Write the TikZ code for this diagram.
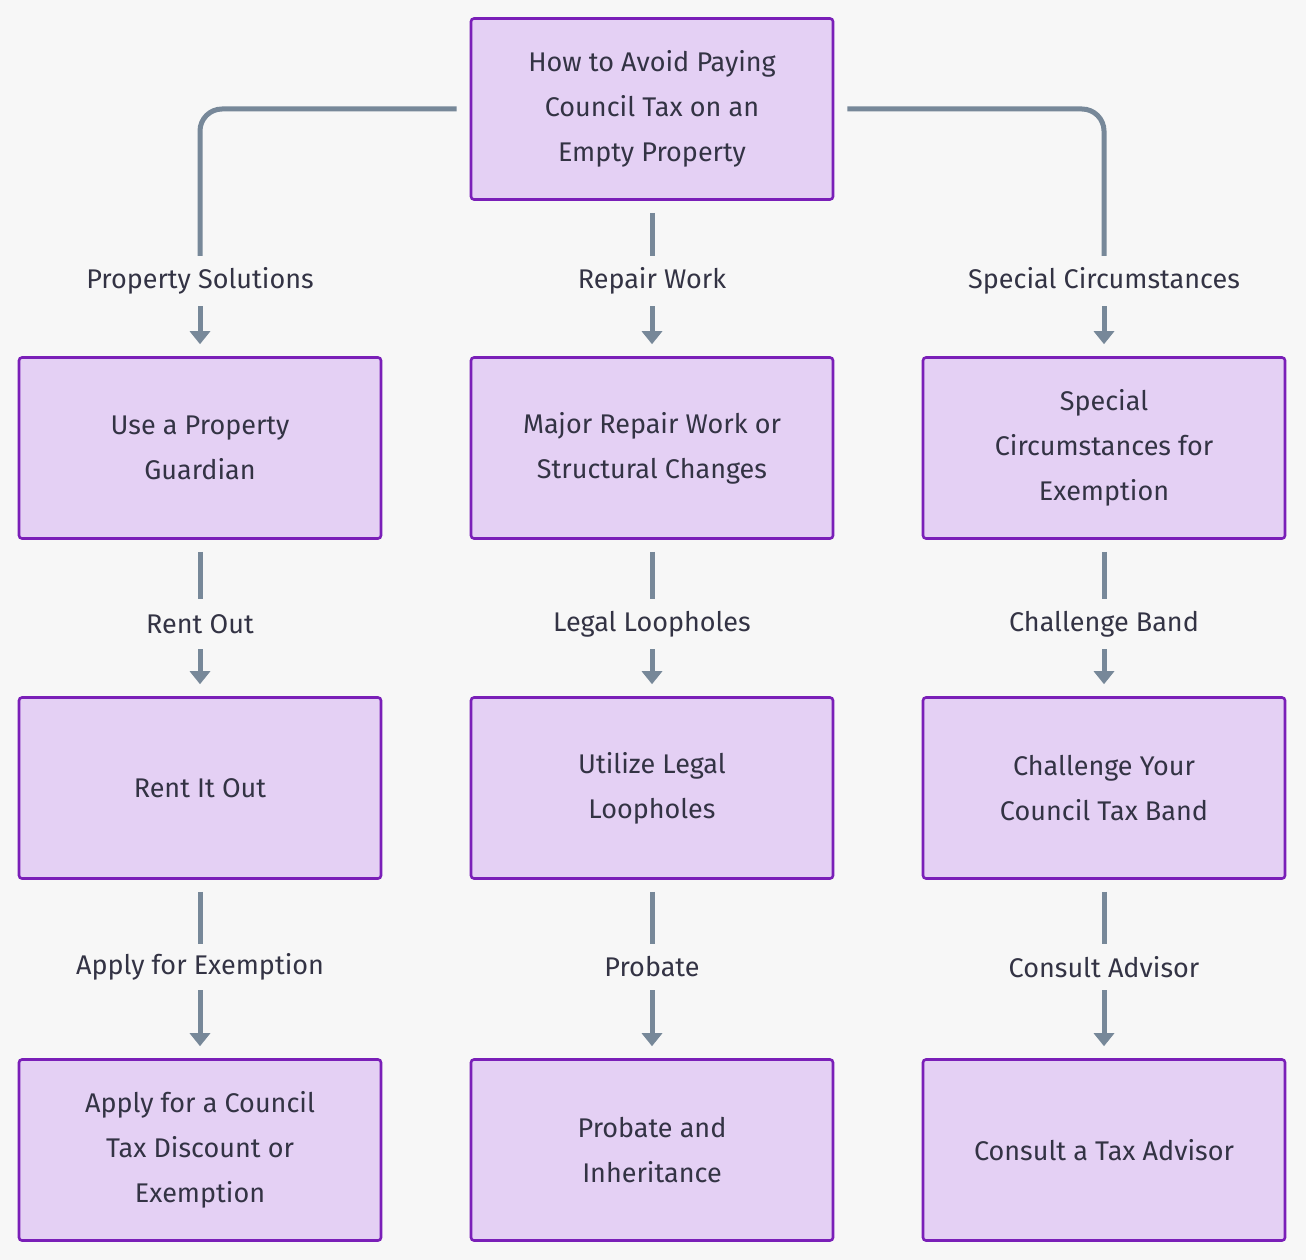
\documentclass[tikz,border=0pt]{standalone}
\usepackage{fontspec}
\setmainfont{Fira Sans}
\usetikzlibrary{arrows.meta}
\definecolor{bg}{HTML}{F7F7F7}
\definecolor{boxf}{HTML}{E4D0F4}
\definecolor{boxd}{HTML}{7A1FB8}
\definecolor{edge}{HTML}{778899}
\definecolor{txt}{HTML}{333344}
\begin{document}
\begin{tikzpicture}[x=1pt,y=-1pt,
  box/.style={draw=boxd,fill=boxf,line width=2.6pt,rounded corners=3pt,minimum width=362pt,minimum height=181pt,align=center,text=txt,font=\fontsize{27}{45}\selectfont,inner sep=0pt},
  lab/.style={text=txt,font=\fontsize{27}{45}\selectfont,minimum height=50pt,inner sep=0pt},
  ln/.style={draw=edge,line width=5pt,rounded corners=22pt},
  ar/.style={ln,-{Triangle[length=13pt,width=20pt]},shorten >=12pt}]
\fill[bg] (0,0) rectangle (1306,1260);
\node[box] (t) at (652,109) {How to Avoid Paying\\Council Tax on an\\Empty Property};
\node[box] (a1) at (200,448) {Use a Property\\Guardian};
\node[box] (b1) at (652,448) {Major Repair Work or\\Structural Changes};
\node[box] (c1) at (1104,448) {Special\\Circumstances for\\Exemption};
\node[box] (a2) at (200,788) {Rent It Out};
\node[box] (b2) at (652,788) {Utilize Legal\\Loopholes};
\node[box] (c2) at (1104,788) {Challenge Your\\Council Tax Band};
\node[box] (a3) at (200,1150) {Apply for a Council\\Tax Discount or\\Exemption};
\node[box] (b3) at (652,1150) {Probate and\\Inheritance};
\node[box] (c3) at (1104,1150) {Consult a Tax Advisor};
\node[lab] (la1) at (200,281) {Property Solutions};
\node[lab] (lb1) at (652,281) {Repair Work};
\node[lab] (lc1) at (1104,281) {Special Circumstances};
\node[lab] (la2) at (200,624) {Rent Out};
\node[lab] (lb2) at (652,624) {Legal Loopholes};
\node[lab] (lc2) at (1104,624) {Challenge Band};
\node[lab,minimum height=46pt] (la3) at (200,967) {Apply for Exemption};
\node[lab,minimum height=46pt] (lb3) at (652,967) {Probate};
\node[lab,minimum height=46pt] (lc3) at (1104,967) {Consult Advisor};
\draw[ln,shorten <=13pt] (t.west) -| (la1.north);
\draw[ln,shorten <=13pt] (t.east) -| (lc1.north);
\draw[ln,shorten <=12pt] (t.south) -- (lb1.north);
\foreach \u/\l/\d in {a1/la2/a2,b1/lb2/b2,c1/lc2/c2,a2/la3/a3,b2/lb3/b3,c2/lc3/c3}{
  \draw[ln,shorten <=12pt] (\u.south) -- (\l.north);
  \draw[ar] (\l.south) -- (\d.north);}
\foreach \l/\d in {la1/a1,lb1/b1,lc1/c1}{\draw[ar] (\l.south) -- (\d.north);}
\end{tikzpicture}
\end{document}
